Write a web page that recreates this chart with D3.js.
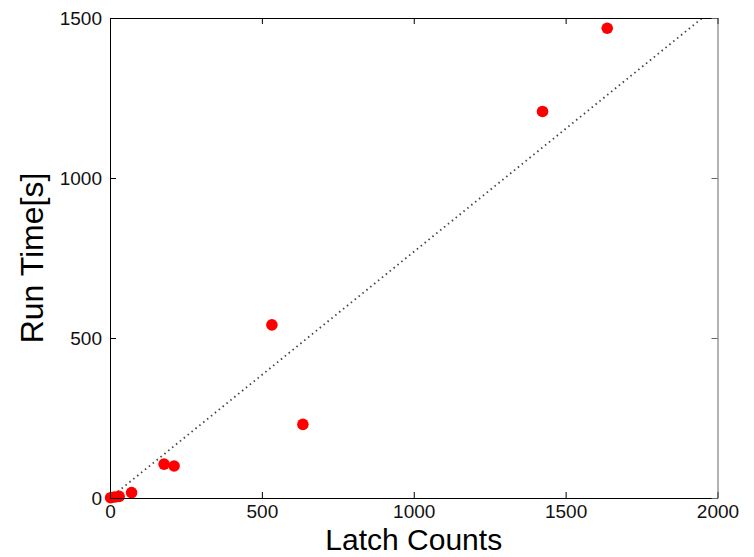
<!DOCTYPE html>
<html>
  <head>
    <meta charset="utf-8">
    <title>Run time vs latch counts</title>
    <script src="https://cdn.jsdelivr.net/npm/d3@7"></script>
    <style>
      body { margin: 0; background: #fff; }
      text { font-family: "Liberation Sans", Arial, sans-serif; fill: #000; }
    </style>
  </head>
  <body>
    <svg id="chart" width="754" height="557"></svg>
    <script>
      // data
      latchCounts = [2, 15, 30, 71, 178, 211, 533, 635, 1424, 1637];
      runTimes = [1, 3, 5, 17, 106, 100, 541, 230, 1208, 1468];
      xTicks = [0, 500, 1000, 1500, 2000];
      yTicks = [0, 500, 1000, 1500];
      fitLine = [[0, 0], [1950, 1500]];

      svg = d3.select("#chart");
      margin = { left: 110, right: 36.5, top: 18, bottom: 59 };
      w = 754 - margin.left - margin.right;
      h = 557 - margin.top - margin.bottom;

      x = d3.scaleLinear().domain([0, 2000]).range([0, w]);
      y = d3.scaleLinear().domain([0, 1500]).range([h, 0]);
      fmt = d3.format("d");

      g = svg.append("g")
        .attr("transform", "translate(" + margin.left + "," + margin.top + ")");

      // dotted reference line
      g.append("path")
        .datum(fitLine)
        .attr("d", d3.line().x(d => x(d[0])).y(d => y(d[1])))
        .attr("fill", "none")
        .attr("stroke", "#444")
        .attr("stroke-width", 1.8)
        .attr("stroke-dasharray", "1.5,3.5");

      // points
      g.selectAll("circle")
        .data(latchCounts)
        .join("circle")
          .attr("cx", d => x(d))
          .attr("cy", (d, i) => y(runTimes[i]))
          .attr("r", 5.8)
          .attr("fill", "#ff0000");

      // axes, ticks inward on all sides
      function style(a) {
        a.select(".domain").attr("stroke", "#000");
        a.selectAll(".tick line").attr("stroke", "#000");
        a.selectAll(".tick text")
          .style("font-size", "19px")
          .style("fill", "#111")
          .style("font-family", "Liberation Sans, Arial, sans-serif");
      }
      g.append("g")
        .attr("transform", "translate(0," + h + ")")
        .call(d3.axisBottom(x).tickValues(xTicks).tickFormat(fmt).tickSize(-6).tickSizeOuter(0).tickPadding(7))
        .call(style);
      g.append("g")
        .call(d3.axisLeft(y).tickValues(yTicks).tickFormat(fmt).tickSize(-6).tickSizeOuter(0).tickPadding(8))
        .call(style);
      g.append("g")
        .call(d3.axisTop(x).tickValues(xTicks).tickSize(-6).tickSizeOuter(0).tickFormat(""))
        .call(style);
      g.append("g")
        .attr("transform", "translate(" + w + ",0)")
        .call(d3.axisRight(y).tickValues(yTicks).tickSize(-6).tickSizeOuter(0).tickFormat(""))
        .call(style)
        .call(a => a.selectAll("path, line").attr("stroke", "#666"));

      // labels
      svg.append("text")
        .attr("x", margin.left + w / 2)
        .attr("y", 550)
        .attr("text-anchor", "middle")
        .style("font-size", "30px")
        .text("Latch Counts");
      svg.append("text")
        .attr("transform", "translate(43," + 258 + ") rotate(-90)")
        .attr("text-anchor", "middle")
        .style("font-size", "32px")
        .text("Run Time[s]");
    </script>
  </body>
</html>
